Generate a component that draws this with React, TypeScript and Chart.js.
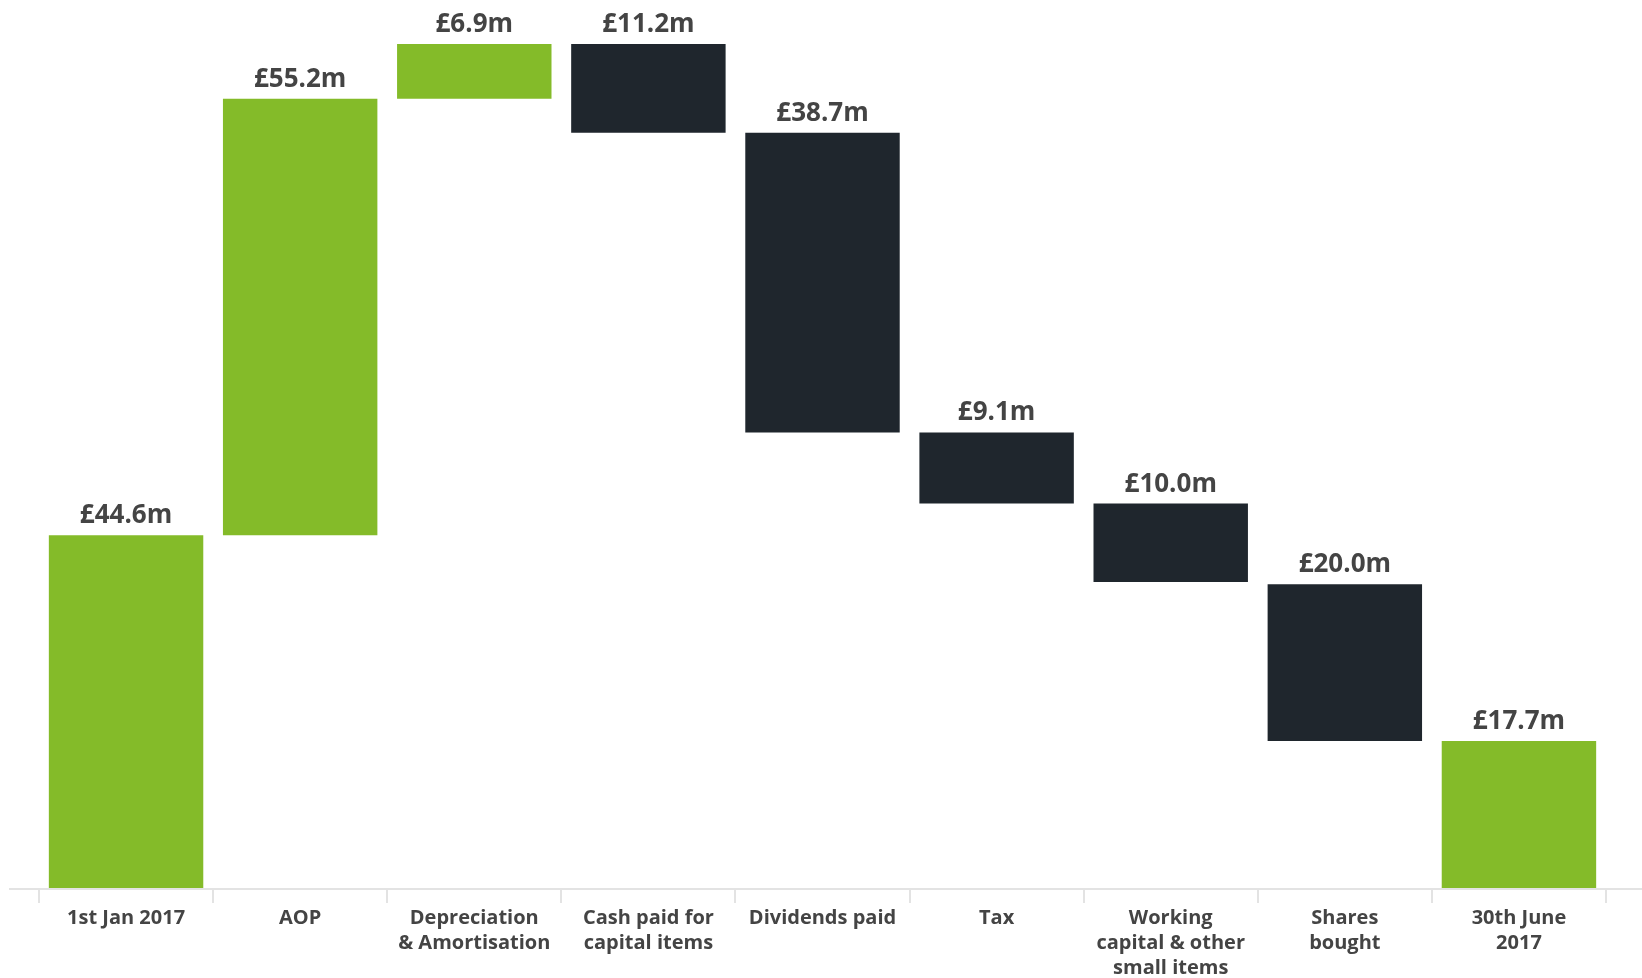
import React, { useEffect, useRef } from "react";
import { Chart, registerables } from "chart.js";

Chart.register(...registerables);

const categories: (string | string[])[] = [
  "1st Jan 2017",
  "AOP",
  ["Depreciation", "& Amortisation"],
  ["Cash paid for", "capital items"],
  "Dividends paid",
  "Tax",
  ["Working", "capital & other", "small items"],
  ["Shares", "bought"],
  ["30th June", "2017"],
];

// Floating bar extents (£m)
const barLow = [0, 44.6, 99.8, 95.5, 57.6, 48.6, 38.7, 18.6, 0];
const barHigh = [44.6, 99.8, 106.7, 106.7, 95.5, 57.6, 48.6, 38.4, 18.6];
// true = increase / total (green), false = decrease (dark)
const isPositive = [true, true, true, false, false, false, false, false, true];
const valueLabels = ["£44.6m", "£55.2m", "£6.9m", "£11.2m", "£38.7m", "£9.1m", "£10.0m", "£20.0m", "£17.7m"];

const GREEN = "#84bb29";
const DARK = "#1f262d";

const labelPlugin = {
  id: "waterfallLabels",
  afterDatasetsDraw(chart: any) {
    const ctx = chart.ctx;
    const meta = chart.getDatasetMeta(0);
    ctx.save();
    ctx.font = "bold 26px 'Open Sans'";
    ctx.fillStyle = "#444444";
    ctx.textAlign = "center";
    ctx.textBaseline = "alphabetic";
    meta.data.forEach((bar: any, i: number) => {
      const top = Math.min(bar.y, bar.base);
      ctx.fillText(valueLabels[i], bar.x, top - 12);
    });
    ctx.restore();
  },
};

const axisLinePlugin = {
  id: "axisLine",
  afterDatasetsDraw(chart: any) {
    const ctx = chart.ctx;
    const y = chart.chartArea.bottom + 1;
    ctx.save();
    ctx.strokeStyle = "#e3e3e3";
    ctx.lineWidth = 2;
    ctx.beginPath();
    ctx.moveTo(9, y);
    ctx.lineTo(chart.width, y);
    ctx.stroke();
    ctx.restore();
  },
};

export default function App() {
  const ref = useRef<HTMLCanvasElement | null>(null);
  useEffect(() => {
    if (!ref.current) return;
    const ranges = barLow.map((lo, i) => [lo, barHigh[i]]);
    const colors = isPositive.map((p) => (p ? GREEN : DARK));
    const chart = new Chart(ref.current, {
      type: "bar",
      data: {
        labels: categories as any,
        datasets: [
          {
            data: ranges as any,
            backgroundColor: colors,
            borderWidth: 0,
            categoryPercentage: 0.887,
            barPercentage: 1,
          },
        ],
      },
      options: {
        animation: false,
        responsive: true,
        maintainAspectRatio: false,
        layout: { padding: { left: 39, right: 36, top: 18, bottom: 0 } },
        plugins: { legend: { display: false }, tooltip: { enabled: false } },
        scales: {
          x: {
            offset: true,
            border: { display: false },
            grid: {
              offset: true,
              drawOnChartArea: false,
              drawTicks: true,
              tickLength: 15,
              color: "#e3e3e3",
              lineWidth: 2,
            },
            ticks: {
              color: "#444444",
              font: { family: "'Open Sans'", size: 20, weight: "bold", lineHeight: 1.25 },
              padding: 3,
              maxRotation: 0,
              autoSkip: false,
            },
          },
          y: {
            display: false,
            min: 0,
            max: 110,
          },
        },
      },
      plugins: [labelPlugin, axisLinePlugin],
    });
    return () => chart.destroy();
  }, []);
  return (
    <div style={{ position: "fixed", left: 0, top: 0, width: 1642, height: 984, background: "#fff" }}>
      <canvas ref={ref} />
    </div>
  );
}
